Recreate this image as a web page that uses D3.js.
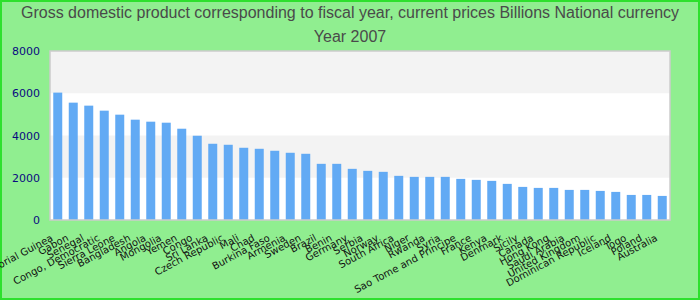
<!DOCTYPE html>
<html>
<head>
<meta charset="utf-8">
<title>GDP 2007</title>
<script src="https://d3js.org/d3.v7.min.js"></script>
<style>
  body { margin: 0; }
  svg { display: block; }
</style>
</head>
<body>
<svg width="700" height="300"></svg>
<script>
// data
var countries = ["Equatorial Guinea", "Gabon", "Senegal", "Congo, Democratic", "Sierra Leone",
  "Bangladesh", "Angola", "Mongolia", "Yemen", "Congo", "Sri Lanka", "Czech Republic", "Mali",
  "Chad", "Burkina Faso", "Armenia", "Sweden", "Brazil", "Benin", "Germany", "Serbia", "Norway",
  "South Africa", "Niger", "Rwanda", "Syria", "Sao Tome and Principe", "France", "Kenya",
  "Denmark", "Sicily", "Canada", "Hong Kong", "Saudi Arabia", "United Kingdom",
  "Dominican Republic", "Iceland", "Togo", "Poland", "Australia"];
var values = [6030, 5555, 5413, 5176, 4986, 4749, 4654, 4606, 4321, 3989, 3609, 3561, 3419,
  3371, 3277, 3182, 3134, 2659, 2659, 2422, 2327, 2280, 2090, 2042, 2042, 2042, 1947, 1900,
  1852, 1710, 1567, 1520, 1520, 1425, 1425, 1377, 1330, 1187, 1187, 1140];
var yTicks = [0, 2000, 4000, 6000, 8000];
var titleLines = ["Gross domestic product corresponding to fiscal year, current prices Billions National currency", "Year 2007"];

var svg = d3.select("svg"),
    W = 700, H = 300,
    pLeft = 50, pRight = 670, pTop = 51, pBottom = 220;

var data = countries.map(function(c, i) { return { name: c, value: values[i] }; });

// background + outer border
svg.append("rect").attr("x", 1).attr("y", 1).attr("width", W - 2).attr("height", H - 2)
  .attr("fill", "#90ee90").attr("stroke", "#2ee02e").attr("stroke-width", 2);

svg.selectAll(".title").data(titleLines).enter().append("text")
  .attr("x", W / 2)
  .attr("y", function(d, i) { return 18 + i * 24; })
  .attr("text-anchor", "middle")
  .attr("font-family", "'Liberation Sans Narrow', 'Liberation Sans', Arial, sans-serif")
  .attr("font-size", "16px")
  .attr("fill", "#4a4a4a")
  .text(function(d) { return d; });

var x = d3.scaleBand().domain(countries).range([pLeft, pRight]).paddingInner(0.42).paddingOuter(0.21);
var y = d3.scaleLinear().domain([0, 8000]).range([pBottom, pTop]);

// plot area with alternating bands
svg.append("rect").attr("x", pLeft).attr("y", pTop).attr("width", pRight - pLeft).attr("height", pBottom - pTop)
  .attr("fill", "#fff");
var bands = d3.pairs(yTicks).filter(function(p, i) { return i % 2 === 1; });
svg.selectAll(".band").data(bands).enter().append("rect")
  .attr("x", pLeft).attr("width", pRight - pLeft)
  .attr("y", function(d) { return y(d[1]); })
  .attr("height", function(d) { return y(d[0]) - y(d[1]); })
  .attr("fill", "#f3f3f3");

svg.selectAll(".bar").data(data).enter().append("rect")
  .attr("x", function(d) { return x(d.name); })
  .attr("y", function(d) { return y(d.value); })
  .attr("width", x.bandwidth())
  .attr("height", function(d) { return pBottom - y(d.value); })
  .attr("fill", "#62aaf4");

svg.append("rect").attr("x", pLeft).attr("y", pTop).attr("width", pRight - pLeft).attr("height", pBottom - pTop)
  .attr("fill", "none").attr("stroke", "#cccccc").attr("stroke-width", 1.5);

// y axis
var ya = svg.append("g").attr("transform", "translate(" + pLeft + ",0)")
  .call(d3.axisLeft(y).tickValues(yTicks).tickFormat(d3.format("d")).tickSize(0).tickPadding(10));
ya.select(".domain").remove();
ya.selectAll("text").attr("font-family", "'DejaVu Sans', sans-serif").attr("font-size", "11px").attr("fill", "#0a0a80");

// x axis
var xa = svg.append("g").attr("transform", "translate(0," + pBottom + ")")
  .call(d3.axisBottom(x).tickSize(0));
xa.select(".domain").remove();
xa.selectAll("text")
  .attr("font-family", "'DejaVu Sans', sans-serif").attr("font-size", "10px").attr("fill", "#111")
  .attr("text-anchor", "end")
  .attr("dy", 0).attr("y", 0)
  .attr("transform", "translate(-4,20) rotate(-28)");
</script>
</body>
</html>
